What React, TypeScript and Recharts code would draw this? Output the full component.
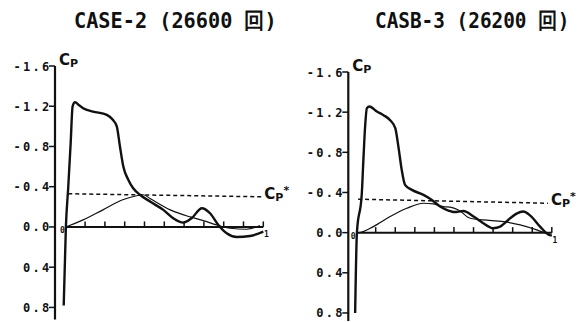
import React from 'react';
import { LineChart, Line, XAxis, YAxis, ReferenceLine, ReferenceDot } from 'recharts';

// axis ticks
const cpTicks = [-1.6, -1.2, -0.8, -0.4, 0, 0.4, 0.8];
const chordTicks = [0.1, 0.2, 0.3, 0.4, 0.5, 0.6, 0.7, 0.8, 0.9, 1.0];

// CASE-2 (26600 回)
const case2UpperX = [-0.008, 0.003, 0.015, 0.027, 0.037, 0.049, 0.07, 0.09, 0.14, 0.21, 0.24, 0.26, 0.276, 0.293, 0.318, 0.343, 0.377, 0.43, 0.495, 0.545, 0.596, 0.638, 0.69, 0.731, 0.773, 0.815, 0.866, 0.933, 1.0];
const case2UpperCp = [0.78, 0.0, -0.4, -0.83, -1.2, -1.24, -1.21, -1.18, -1.147, -1.114, -1.065, -1.0, -0.8, -0.6, -0.47, -0.385, -0.32, -0.25, -0.17, -0.087, -0.043, -0.087, -0.186, -0.136, -0.02, 0.063, 0.1, 0.09, 0.047];
const case2LowerX = [0, 0.015, 0.09, 0.19, 0.29, 0.36, 0.394, 0.43, 0.53, 0.63, 0.697, 0.765, 0.832, 0.916, 0.983];
const case2LowerCp = [0, -0.01, -0.07, -0.17, -0.27, -0.31, -0.32, -0.28, -0.17, -0.1, -0.063, -0.02, 0.013, 0.023, -0.013];
const case2CritX = [0.015, 0.99];
const case2CritCp = [-0.33, -0.3];

// CASB-3 (26200 回)
const case3UpperX = [-0.005, 0.004, 0.029, 0.037, 0.046, 0.055, 0.068, 0.106, 0.14, 0.174, 0.2, 0.216, 0.233, 0.25, 0.285, 0.344, 0.387, 0.429, 0.472, 0.5, 0.548, 0.6, 0.65, 0.7, 0.736, 0.787, 0.82, 0.855, 0.89, 0.94, 0.983, 1.0];
const case3UpperCp = [0.8, 0.0, -0.39, -0.72, -1.06, -1.24, -1.256, -1.206, -1.17, -1.12, -1.04, -0.857, -0.625, -0.476, -0.426, -0.376, -0.326, -0.26, -0.22, -0.205, -0.215, -0.16, -0.094, -0.044, -0.06, -0.143, -0.19, -0.21, -0.17, -0.06, 0.02, 0.03];
const case3LowerX = [0, 0.012, 0.088, 0.174, 0.259, 0.344, 0.395, 0.446, 0.48, 0.523, 0.583, 0.65, 0.753, 0.838, 0.923, 0.99];
const case3LowerCp = [0, 0, -0.06, -0.16, -0.243, -0.293, -0.286, -0.26, -0.255, -0.226, -0.143, -0.127, -0.11, -0.077, -0.027, 0.023];
const case3CritX = [0.01, 0.98];
const case3CritCp = [-0.333, -0.293];

const zip = (xs: number[], ys: number[]) => xs.map((x, i) => ({ x, cp: ys[i] }));

const MONO = "'DejaVu Sans Mono', 'Liberation Mono', monospace";

const CpTick = (props: any) => {
  const { x, y, payload } = props;
  const v: number = payload.value;
  const s = v === 0 ? '0.0' : v.toFixed(1);
  return (
    <text x={x + 2.5} y={y} dy={4.5} textAnchor="end" fontFamily={MONO} fontWeight="bold" fontSize={12} letterSpacing={2.3} fill="#111">
      {s}
    </text>
  );
};

const CpLabel = ({ x, y, star }: { x: number; y: number; star?: boolean }) => (
  <text x={x} y={y} fontFamily="'DejaVu Sans', sans-serif" fontWeight="bold" fill="#111">
    <tspan fontSize={15}>C</tspan>
    <tspan fontSize={11} dy={2}>P</tspan>
    {star && <tspan fontSize={11} dy={-7}>*</tspan>}
  </text>
);

const SmallLabel = ({ x, y, text }: { x: number; y: number; text: string }) => (
  <text x={x} y={y} textAnchor="middle" dominantBaseline="central" fontFamily={MONO} fontWeight="bold" fontSize={8} fill="#111">
    {text}
  </text>
);

interface PanelProps {
  left: number;
  width: number;
  yAxisWidth: number;
  top: number;
  right: number;
  bottom: number;
  xDomain: [number, number];
  yDomain: [number, number];
  upper: { x: number; cp: number }[];
  lower: { x: number; cp: number }[];
  crit: { x: number; cp: number }[];
}

const Panel = ({ left, width, yAxisWidth, top, right, bottom, xDomain, yDomain, upper, lower, crit }: PanelProps) => {
  const critEnd = crit[crit.length - 1];
  return (
    <div style={{ position: 'absolute', left, top: 0 }}>
      <LineChart width={width} height={322} margin={{ top, right, bottom, left: 0 }}>
        <XAxis type="number" dataKey="x" domain={xDomain} allowDataOverflow hide />
        <YAxis
          type="number"
          reversed
          domain={yDomain}
          allowDataOverflow
          ticks={cpTicks}
          interval={0}
          width={yAxisWidth}
          tickSize={6}
          tickMargin={0}
          axisLine={{ stroke: '#111', strokeWidth: 2.2 }}
          tickLine={{ stroke: '#111', strokeWidth: 1.5 }}
          tick={<CpTick />}
        />
        <ReferenceLine segment={[{ x: 0, y: 0 }, { x: 1, y: 0 }]} stroke="#111" strokeWidth={2} ifOverflow="visible" />
        {chordTicks.map((t) => (
          <ReferenceLine key={t} segment={[{ x: t, y: 0 }, { x: t, y: -0.055 }]} stroke="#111" strokeWidth={1.5} ifOverflow="visible" />
        ))}
        <Line data={crit} dataKey="cp" type="linear" stroke="#111" strokeWidth={1.5} strokeDasharray="4 3" dot={false} isAnimationActive={false} />
        <Line data={lower} dataKey="cp" type="monotone" stroke="#111" strokeWidth={1.2} dot={false} isAnimationActive={false} />
        <Line data={upper} dataKey="cp" type="monotone" stroke="#111" strokeWidth={2.4} dot={false} isAnimationActive={false} />
        <ReferenceDot x={xDomain[0]} y={-1.6} r={0} ifOverflow="visible" shape={(p: any) => <CpLabel x={p.cx + 4} y={p.cy - 1} />} />
        <ReferenceDot x={critEnd.x} y={critEnd.cp} r={0} ifOverflow="visible" shape={(p: any) => <CpLabel x={p.cx + 3} y={p.cy + 2} star />} />
        <ReferenceDot x={0} y={0} r={0} ifOverflow="visible" shape={(p: any) => <SmallLabel x={p.cx - 3} y={p.cy + 4} text="0" />} />
        <ReferenceDot x={1} y={0} r={0} ifOverflow="visible" shape={(p: any) => <SmallLabel x={p.cx + 3} y={p.cy + 8} text="1" />} />
      </LineChart>
    </div>
  );
};

const Title = ({ x, scale, text }: { x: number; scale: number; text: string }) => (
  <text transform={`translate(${x} 28) scale(${scale} 1)`} fontFamily={MONO} fontWeight="bold" fontSize={22} fill="#111">
    {text}
  </text>
);

export default function App() {
  return (
    <div style={{ position: 'absolute', left: 0, top: 0, width: 581, height: 322, background: '#fff', overflow: 'hidden' }}>
      <Panel
        left={0}
        width={290}
        yAxisWidth={55}
        top={66}
        right={16.8}
        bottom={2.5}
        xDomain={[-0.052, 1.05]}
        yDomain={[-1.6, 0.92]}
        upper={zip(case2UpperX, case2UpperCp)}
        lower={zip(case2LowerX, case2LowerCp)}
        crit={zip(case2CritX, case2CritCp)}
      />
      <Panel
        left={290}
        width={291}
        yAxisWidth={58.3}
        top={72}
        right={19.4}
        bottom={1}
        xDomain={[-0.04, 1.05]}
        yDomain={[-1.6, 0.88]}
        upper={zip(case3UpperX, case3UpperCp)}
        lower={zip(case3LowerX, case3LowerCp)}
        crit={zip(case3CritX, case3CritCp)}
      />
      <svg width={581} height={40} style={{ position: 'absolute', left: 0, top: 0 }}>
        <Title x={74} scale={0.92} text="CASE-2 (26600 回)" />
        <Title x={375} scale={0.88} text="CASB-3 (26200 回)" />
      </svg>
    </div>
  );
}
